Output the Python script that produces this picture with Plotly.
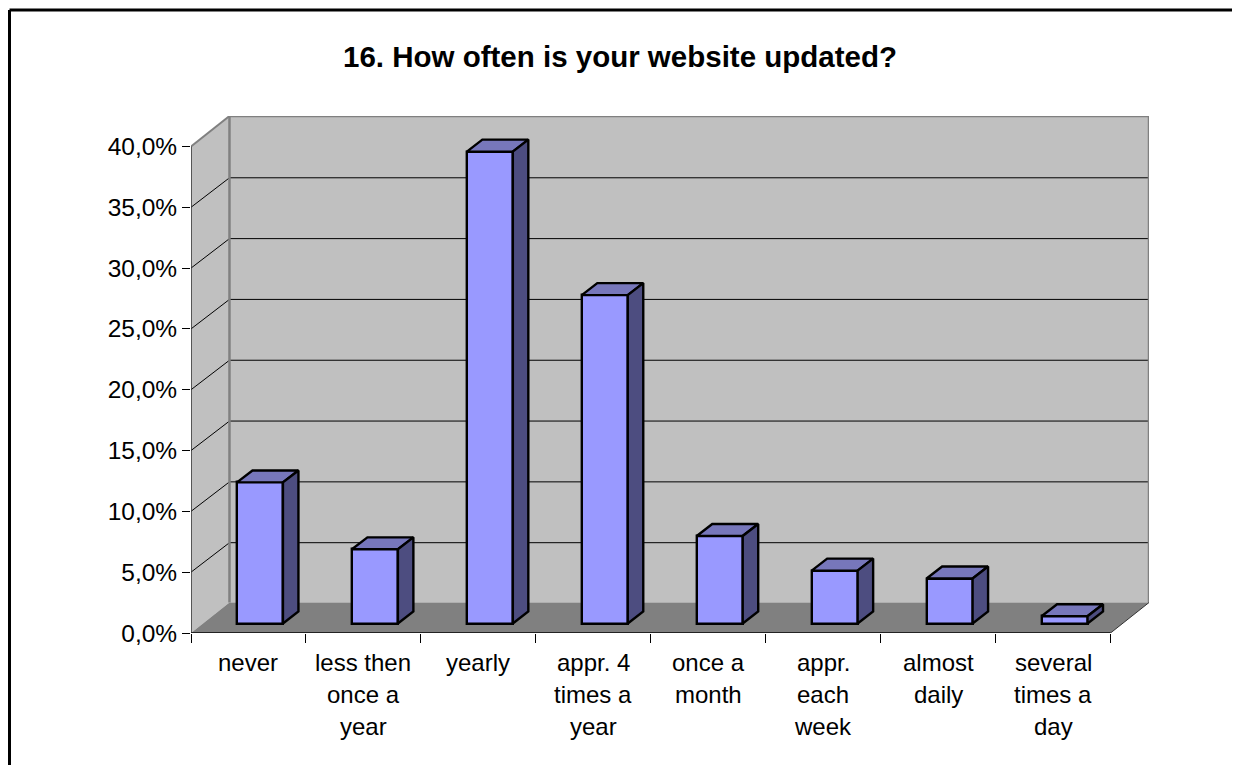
import plotly.graph_objects as go

# ---- data ----
categories = [["never"], ["less then", "once a", "year"], ["yearly"], ["appr. 4", "times a", "year"],
              ["once a", "month"], ["appr.", "each", "week"], ["almost", "daily"], ["several", "times a", "day"]]
values = [11.6, 6.1, 38.8, 27.0, 7.2, 4.35, 3.7, 0.6]
y_ticks = [0, 5, 10, 15, 20, 25, 30, 35, 40]
y_labels = ["0,0%", "5,0%", "10,0%", "15,0%", "20,0%", "25,0%", "30,0%", "35,0%", "40,0%"]
title = "16. How often is your website updated?"

# ---- pseudo-3D projection, in axis units ----
PAGE = 8                       # the page's body margin
W, H = 1240 - PAGE, 765 - PAGE
L, R, T, B = 191 - PAGE, 1149 - PAGE, 116 - PAGE, 633.5 - PAGE
CAT_PX, PCT_PX = 115.0, 487.0 / 40
N = len(values)
DX, DY = 38.5 / CAT_PX, 30.5 / PCT_PX          # full depth of the chart box
GRID_DY = DY - 0.08                            # gridlines sit a pixel lower on the back wall
BAR_W = 0.40
BAR_C = 0.60
BAR_BASE = 9.5 / PCT_PX
BDX, BDY = 15.5 / CAT_PX, 12.0 / PCT_PX        # depth of a bar
FONT = "Liberation Sans, Arial, sans-serif"
WALL, EDGE, FLOOR = "#C0C0C0", "#808080", "#808080"
FRONT, TOP, SIDE = "#9999FF", "#7777BB", "#4D4D80"
OUTLINE = 2.4


def poly(pts, fill, line=None, width=1):
    path = "M " + " L ".join(f"{x},{y}" for x, y in pts) + " Z"
    return dict(type="path", path=path, xref="x", yref="y", layer="below", fillcolor=fill,
                line=dict(color=line or fill, width=width if line else 0))


def seg(x0, y0, x1, y1, color="#000000", width=1):
    return dict(type="line", x0=x0, y0=y0, x1=x1, y1=y1, xref="x", yref="y", layer="below",
                line=dict(color=color, width=width))


top_val = y_ticks[-1]
shapes = [
    poly([(DX, DY), (N + DX, DY), (N + DX, top_val + DY), (DX, top_val + DY)], WALL),
    poly([(0, 0), (DX, DY), (DX, top_val + DY), (0, top_val)], WALL),
    poly([(0, 0), (N, 0), (N + DX, DY), (DX, DY)], FLOOR),
]
for t in y_ticks[1:-1]:
    shapes.append(seg(DX, t + GRID_DY, N + DX, t + GRID_DY, "#000000", 1))
    shapes.append(seg(0, t, DX, t + GRID_DY, "#000000", 1))
shapes += [
    seg(DX, DY, DX, top_val + DY, EDGE, 2.5),
    seg(N + DX, DY, N + DX, top_val + DY, EDGE, 2.5),
    seg(DX, top_val + DY, N + DX, top_val + DY, EDGE, 2.5),
    seg(0, top_val, DX, top_val + DY, EDGE, 2),
    seg(N, 0, N + DX, DY, "#333333", 1),
    seg(0, 0, 0, top_val, "#333333", 1.5),
    seg(0, 0, N, 0, "#222222", 2),
    # outer chart frame (only top and left fall within the picture)
    dict(type="line", xref="paper", yref="paper", layer="above",
         x0=(9.5 - PAGE - L) / (R - L), x1=(W + 5 - L) / (R - L),
         y0=(B - 10 + PAGE) / (B - T), y1=(B - 10 + PAGE) / (B - T), line=dict(color="#000000", width=3)),
    dict(type="line", xref="paper", yref="paper", layer="above",
         x0=(9.5 - PAGE - L) / (R - L), x1=(9.5 - PAGE - L) / (R - L),
         y0=(B - 10 + PAGE) / (B - T), y1=(B - H - 5) / (B - T), line=dict(color="#000000", width=3)),
]

fig = go.Figure()
fig.add_trace(go.Bar(x=[i + BAR_C for i in range(N)], y=values, base=[BAR_BASE] * N, width=BAR_W,
                     marker=dict(color=FRONT, line=dict(color="#000000", width=OUTLINE)), showlegend=False))
for i, v in enumerate(values):
    x0, x1 = i + BAR_C - BAR_W / 2, i + BAR_C + BAR_W / 2
    y0, y1 = BAR_BASE, BAR_BASE + v
    fig.add_trace(go.Scatter(x=[x0, x1, x1 + BDX, x0 + BDX, x0], y=[y1, y1, y1 + BDY, y1 + BDY, y1],
                             mode="lines", fill="toself", fillcolor=TOP,
                             line=dict(color="#000000", width=OUTLINE), showlegend=False, hoverinfo="skip"))
    fig.add_trace(go.Scatter(x=[x1, x1 + BDX, x1 + BDX, x1, x1], y=[y0, y0 + BDY, y1 + BDY, y1, y0],
                             mode="lines", fill="toself", fillcolor=SIDE,
                             line=dict(color="#000000", width=OUTLINE), showlegend=False, hoverinfo="skip"))

annotations = []
LABEL_FIRST, LABEL_STEP = 29.5, 32.0
for i, lines in enumerate(categories):
    for j, text in enumerate(lines):
        annotations.append(dict(x=i + 0.5, y=0, xref="x", yref="y", text=text, showarrow=False,
                                xanchor="center", yanchor="middle",
                                yshift=-(LABEL_FIRST + LABEL_STEP * j),
                                font=dict(family=FONT, size=24, color="#000000")))

fig.update_layout(
    width=W, height=H, autosize=False,
    margin=dict(l=L, r=W - R, t=T, b=H - B, pad=0),
    paper_bgcolor="#FFFFFF", plot_bgcolor="#FFFFFF",
    bargap=0, showlegend=False, shapes=shapes, annotations=annotations,
    title=dict(text=f"<b>{title}</b>", x=(620 - PAGE) / W, xanchor="center", y=1 - (57 - PAGE) / H, yanchor="middle",
               font=dict(family=FONT, size=29.5, color="#000000")),
    xaxis=dict(range=[0, N + DX], tickvals=list(range(N + 1)), showticklabels=False,
               ticks="outside", ticklen=9, tickcolor="#000000", tickwidth=1,
               showgrid=False, zeroline=False, showline=False, fixedrange=True),
    yaxis=dict(range=[0, (B - T) / PCT_PX], tickvals=y_ticks, ticktext=y_labels,
               ticks="outside", ticklen=8, tickcolor="#000000", tickwidth=1,
               tickfont=dict(family=FONT, size=24.5, color="#000000"),
               showgrid=False, zeroline=False, showline=False, fixedrange=True),
)

fig.write_html("out.html", config=dict(displayModeBar=False))
